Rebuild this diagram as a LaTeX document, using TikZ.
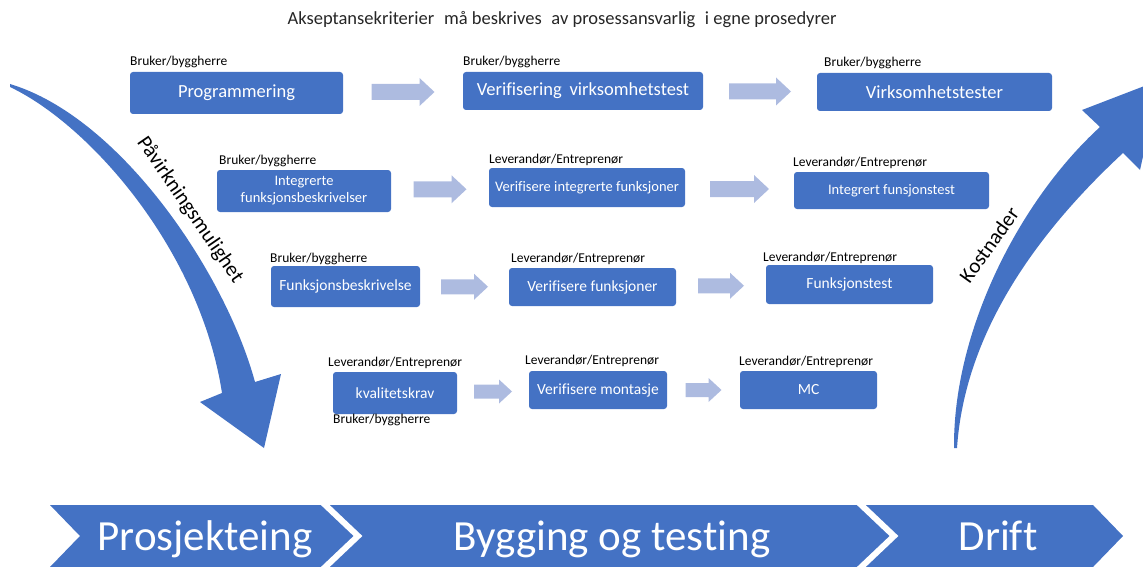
\documentclass[tikz,border=0pt]{standalone}
\usepackage{fontspec}
\setmainfont{Carlito}[Ligatures=CommonOff]
\usetikzlibrary{calc}
\definecolor{boxblue}{HTML}{4472C4}
\definecolor{paleblue}{HTML}{ADBBE0}
\newcommand{\fsz}[2]{\fontsize{#1}{#2}\selectfont}
% light block arrow centred on #1, half length #2, head length #3, shaft/head half heights #4/#5
\newcommand{\blockarrow}[5]{%
  \fill[paleblue,shift={(#1)}] (-#2,-#4) -- (#2-#3,-#4) -- (#2-#3,-#5) -- (#2,0)
    -- (#2-#3,#5) -- (#2-#3,#4) -- (-#2,#4) -- cycle;}
\tikzset{
  stepbox/.style={fill=boxblue, rounded corners=3pt, text=white, align=center, inner sep=0pt},
  role/.style={anchor=west, inner sep=0pt, text=black, font=\fsz{13.5}{16}},
  phase/.style={anchor=base, inner sep=0pt, text=white, font=\fsz{43}{50}},
  curvelabel/.style={inner sep=0pt, text=black, font=\fsz{21}{25}},
}
\begin{document}
\begin{tikzpicture}[x=1pt,y=-1pt]
\useasboundingbox (0,0) rectangle (1143,567);
\clip (0,0) rectangle (1143,567);

% heading
\node[inner sep=0pt, text=black!85, font=\fsz{18.5}{22}] (title) at (562,20)
  {Akseptansekriterier\hspace{0.3em} må beskrives\hspace{0.3em} av prosessansvarlig\hspace{0.3em} i egne prosedyrer};

% curved arrow: Påvirkningsmulighet
\fill[boxblue] (10,84) .. controls (120,117) and (225,272) .. (255,382)
  -- (281,374) -- (264,448) -- (200,402) -- (222,393)
  .. controls (200,250) and (90,125) .. (10,87) -- cycle;
\node[curvelabel, rotate=-55.5] (pav) at (190,210) {Påvirkningsmulighet};

% curved arrow: Kostnader
\fill[boxblue] (954,448) .. controls (953,330) and (1020,200) .. (1100,127)
  -- (1082,110) -- (1160,80) -- (1140,170) -- (1123,153)
  .. controls (1040,230) and (965,330) .. (957,448) -- cycle;
\node[curvelabel, rotate=54.4] (kost) at (989,245) {Kostnader};

% row 1
\node[stepbox, minimum width=213pt, minimum height=42pt, font=\fsz{18.5}{22}] (prog) at (236.5,93) {Programmering};
\node[stepbox, minimum width=240pt, minimum height=38pt, font=\fsz{18.5}{22}] (verv) at (583,91) {Verifisering\hspace{0.2em} virksomhetstest};
\node[stepbox, minimum width=235pt, minimum height=38pt, font=\fsz{18.5}{22}] (virk) at (934.5,92) {Virksomhetstester};
\node[role] (l11) at (130,62) {Bruker/byggherre};
\node[role] (l12) at (463,62) {Bruker/byggherre};
\node[role] (l13) at (824,63) {Bruker/byggherre};

% row 2
\node[stepbox, minimum width=174pt, minimum height=42pt, font=\fsz{14.5}{17}] (intf) at (304,191) {Integrerte\\funksjonsbeskrivelser};
\node[stepbox, minimum width=196pt, minimum height=39pt, font=\fsz{14.5}{17}] (vif) at (587,187.5) {Verifisere integrerte funksjoner};
\node[stepbox, minimum width=195pt, minimum height=37pt, font=\fsz{14.5}{17}] (ift) at (891.5,190.5) {Integrert funsjonstest};
\node[role] (l21) at (219,161) {Bruker/byggherre};
\node[role] (l22) at (489,160) {Leverandør/Entreprenør};
\node[role] (l23) at (793,163) {Leverandør/Entreprenør};

% row 3
\node[stepbox, minimum width=149pt, minimum height=41pt, font=\fsz{15.5}{18}] (fb) at (345.5,286.5) {Funksjonsbeskrivelse};
\node[stepbox, minimum width=167pt, minimum height=38pt, font=\fsz{15.5}{18}] (vf) at (592.5,287) {Verifisere funksjoner};
\node[stepbox, minimum width=167pt, minimum height=39pt, font=\fsz{15.5}{18}] (ft) at (849.5,284.5) {Funksjonstest};
\node[role] (l31) at (270,259) {Bruker/byggherre};
\node[role] (l32) at (511,259) {Leverandør/Entreprenør};
\node[role] (l33) at (763,258) {Leverandør/Entreprenør};

% row 4
\node[stepbox, minimum width=124pt, minimum height=42pt, font=\fsz{15.5}{18}] (kk) at (395,393) {kvalitetskrav};
\node[stepbox, minimum width=138pt, minimum height=38pt, font=\fsz{15.5}{18}] (vm) at (598,390) {Verifisere montasje};
\node[stepbox, minimum width=137pt, minimum height=38pt, font=\fsz{15.5}{18}] (mc) at (808.5,390) {MC};
\node[role] (l41) at (328,363) {Leverandør/Entreprenør};
\node[role] (l42) at (525,361) {Leverandør/Entreprenør};
\node[role] (l43) at (739,362) {Leverandør/Entreprenør};
\node[role] (l44) at (333,420) {Bruker/byggherre};

% light arrows between the steps
\path (prog.east) -- (verv.west) coordinate[midway] (m11);
\path (verv.east) -- (virk.west) coordinate[midway] (m12);
\path (intf.east) -- (vif.west) coordinate[midway] (m21);
\path (vif.east) -- (ift.west) coordinate[midway] (m22);
\path (fb.east) -- (vf.west) coordinate[midway] (m31);
\path (vf.east) -- (ft.west) coordinate[midway] (m32);
\path (kk.east) -- (vm.west) coordinate[midway] (m41);
\path (vm.east) -- (mc.west) coordinate[midway] (m42);
\blockarrow{m11}{31.5}{15}{8}{14}
\blockarrow{m12}{31}{15}{8}{14}
\blockarrow{m21}{26.5}{15}{8}{14}
\blockarrow{m22}{29.5}{15}{8}{14}
\blockarrow{m31}{23.5}{14}{7.5}{13}
\blockarrow{m32}{23}{14}{7.5}{13}
\blockarrow{m41}{19}{13}{7}{12}
\blockarrow{m42}{18}{13}{7}{12}

% phase band
\fill[boxblue] (50,505) -- (1093,505) -- (1123,536) -- (1093,567) -- (50,567) -- (80,536) -- cycle;
\draw[white, line width=6pt, line join=miter] (320,500) -- (358,536) -- (320,572);
\draw[white, line width=6pt, line join=miter] (856,500) -- (894,536) -- (856,572);
\node[phase] (ph1) at (205,550) {Prosjekteing};
\node[phase] (ph2) at (612,550) {Bygging og testing};
\node[phase] (ph3) at (998,550) {Drift};
\end{tikzpicture}
\end{document}
